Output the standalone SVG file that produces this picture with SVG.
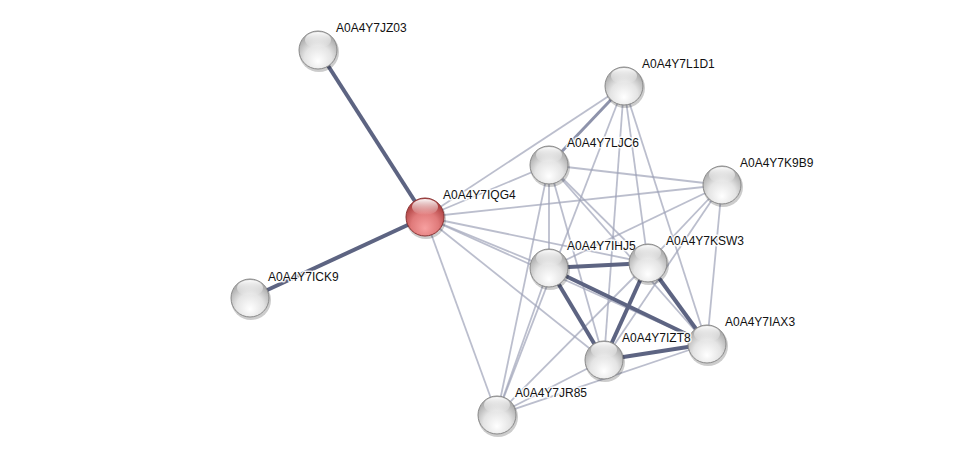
<svg xmlns="http://www.w3.org/2000/svg" width="976" height="460" viewBox="0 0 976 460">
<defs>
<radialGradient id="gGray" cx="50%" cy="70%" r="60%" fx="50%" fy="80%">
<stop offset="0%" stop-color="#ffffff"/>
<stop offset="60%" stop-color="#e4e4e4"/>
<stop offset="100%" stop-color="#b0b0b0"/>
</radialGradient>
<radialGradient id="gRed" cx="50%" cy="70%" r="60%" fx="50%" fy="80%">
<stop offset="0%" stop-color="#f7a0a0"/>
<stop offset="60%" stop-color="#e07a7a"/>
<stop offset="100%" stop-color="#b04444"/>
</radialGradient>
<linearGradient id="gHi" x1="0" y1="0" x2="0" y2="1">
<stop offset="0%" stop-color="#ffffff" stop-opacity="0.95"/>
<stop offset="100%" stop-color="#ffffff" stop-opacity="0"/>
</linearGradient>
</defs>
<style>
.e{fill:none;stroke-linecap:butt}
.thin{stroke:#9ea2b8;stroke-width:1.8;stroke-opacity:0.7}
.med{stroke:#7a809c;stroke-width:3;stroke-opacity:0.85}
.thick{stroke:#5d6482;stroke-width:4}
.shadow{fill:#000;fill-opacity:0.2}
.ball{fill:url(#gGray);stroke:#8a8a8a;stroke-width:1}
.ballr{fill:url(#gRed);stroke:#8a3434;stroke-width:1}
.hi{fill:url(#gHi)}
.lbl{font-family:"Liberation Sans",Arial,sans-serif;font-size:12px;fill:#111;stroke:#ffffff;stroke-width:3;stroke-opacity:0.85;paint-order:stroke;stroke-linejoin:round}
</style>
<rect width="976" height="460" fill="#ffffff"/>
<g id="connectors">
<line class="e thin" x1="425" y1="217" x2="624" y2="86"/>
<line class="e thin" x1="425" y1="217" x2="549" y2="165"/>
<line class="e thin" x1="425" y1="217" x2="722" y2="185"/>
<line class="e thin" x1="425" y1="217" x2="549" y2="268"/>
<line class="e thin" x1="425" y1="217" x2="648" y2="263"/>
<line class="e thin" x1="425" y1="217" x2="707" y2="344"/>
<line class="e thin" x1="425" y1="217" x2="604" y2="360"/>
<line class="e thin" x1="425" y1="217" x2="497" y2="415"/>
<line class="e thin" x1="624" y1="86" x2="497" y2="415"/>
<line class="e thin" x1="624" y1="86" x2="604" y2="360"/>
<line class="e thin" x1="624" y1="86" x2="648" y2="263"/>
<line class="e thin" x1="624" y1="86" x2="707" y2="344"/>
<line class="e thin" x1="549" y1="165" x2="722" y2="185"/>
<line class="e thin" x1="549" y1="165" x2="549" y2="268"/>
<line class="e thin" x1="549" y1="165" x2="497" y2="415"/>
<line class="e thin" x1="549" y1="165" x2="604" y2="360"/>
<line class="e thin" x1="549" y1="165" x2="648" y2="263"/>
<line class="e thin" x1="549" y1="165" x2="707" y2="344"/>
<line class="e thin" x1="722" y1="185" x2="549" y2="268"/>
<line class="e thin" x1="722" y1="185" x2="648" y2="263"/>
<line class="e thin" x1="722" y1="185" x2="604" y2="360"/>
<line class="e thin" x1="722" y1="185" x2="707" y2="344"/>
<line class="e thin" x1="497" y1="415" x2="549" y2="268"/>
<line class="e thin" x1="497" y1="415" x2="604" y2="360"/>
<line class="e thin" x1="497" y1="415" x2="707" y2="344"/>
<line class="e thin" x1="497" y1="415" x2="648" y2="263"/>
<line class="e med" x1="624" y1="86" x2="549" y2="165"/>
<line class="e thick" x1="425" y1="217" x2="318" y2="50"/>
<line class="e thick" x1="425" y1="217" x2="250" y2="298"/>
<line class="e thick" x1="549" y1="268" x2="648" y2="263"/>
<line class="e thick" x1="549" y1="268" x2="604" y2="360"/>
<line class="e thick" x1="549" y1="268" x2="707" y2="344"/>
<line class="e thick" x1="648" y1="263" x2="604" y2="360"/>
<line class="e thick" x1="648" y1="263" x2="707" y2="344"/>
<line class="e thick" x1="604" y1="360" x2="707" y2="344"/>
</g>
<g id="n-JZ03"><circle class="shadow" cx="319" cy="52" r="20"/><circle class="ball" cx="318" cy="50" r="19"/><ellipse class="hi" cx="318" cy="40" rx="13" ry="8"/><text class="lbl" x="336" y="32">A0A4Y7JZ03</text></g>
<g id="n-L1D1"><circle class="shadow" cx="625" cy="88" r="20"/><circle class="ball" cx="624" cy="86" r="19"/><ellipse class="hi" cx="624" cy="76" rx="13" ry="8"/><text class="lbl" x="642" y="68">A0A4Y7L1D1</text></g>
<g id="n-LJC6"><circle class="shadow" cx="550" cy="167" r="20"/><circle class="ball" cx="549" cy="165" r="19"/><ellipse class="hi" cx="549" cy="155" rx="13" ry="8"/><text class="lbl" x="567" y="147">A0A4Y7LJC6</text></g>
<g id="n-K9B9"><circle class="shadow" cx="723" cy="187" r="20"/><circle class="ball" cx="722" cy="185" r="19"/><ellipse class="hi" cx="722" cy="175" rx="13" ry="8"/><text class="lbl" x="740" y="167">A0A4Y7K9B9</text></g>
<g id="n-IQG4"><circle class="shadow" cx="426" cy="219" r="20"/><circle class="ballr" cx="425" cy="217" r="19"/><ellipse class="hi" cx="425" cy="207" rx="13" ry="8"/><text class="lbl" x="443" y="199">A0A4Y7IQG4</text></g>
<g id="n-IHJ5"><circle class="shadow" cx="550" cy="270" r="20"/><circle class="ball" cx="549" cy="268" r="19"/><ellipse class="hi" cx="549" cy="258" rx="13" ry="8"/><text class="lbl" x="567" y="250">A0A4Y7IHJ5</text></g>
<g id="n-KSW3"><circle class="shadow" cx="649" cy="265" r="20"/><circle class="ball" cx="648" cy="263" r="19"/><ellipse class="hi" cx="648" cy="253" rx="13" ry="8"/><text class="lbl" x="666" y="245">A0A4Y7KSW3</text></g>
<g id="n-ICK9"><circle class="shadow" cx="251" cy="300" r="20"/><circle class="ball" cx="250" cy="298" r="19"/><ellipse class="hi" cx="250" cy="288" rx="13" ry="8"/><text class="lbl" x="268" y="281">A0A4Y7ICK9</text></g>
<g id="n-IAX3"><circle class="shadow" cx="708" cy="346" r="20"/><circle class="ball" cx="707" cy="344" r="19"/><ellipse class="hi" cx="707" cy="334" rx="13" ry="8"/><text class="lbl" x="725" y="326">A0A4Y7IAX3</text></g>
<g id="n-IZT8"><circle class="shadow" cx="605" cy="362" r="20"/><circle class="ball" cx="604" cy="360" r="19"/><ellipse class="hi" cx="604" cy="350" rx="13" ry="8"/><text class="lbl" x="622" y="342">A0A4Y7IZT8</text></g>
<g id="n-JR85"><circle class="shadow" cx="498" cy="417" r="20"/><circle class="ball" cx="497" cy="415" r="19"/><ellipse class="hi" cx="497" cy="405" rx="13" ry="8"/><text class="lbl" x="515" y="397">A0A4Y7JR85</text></g>
</svg>
